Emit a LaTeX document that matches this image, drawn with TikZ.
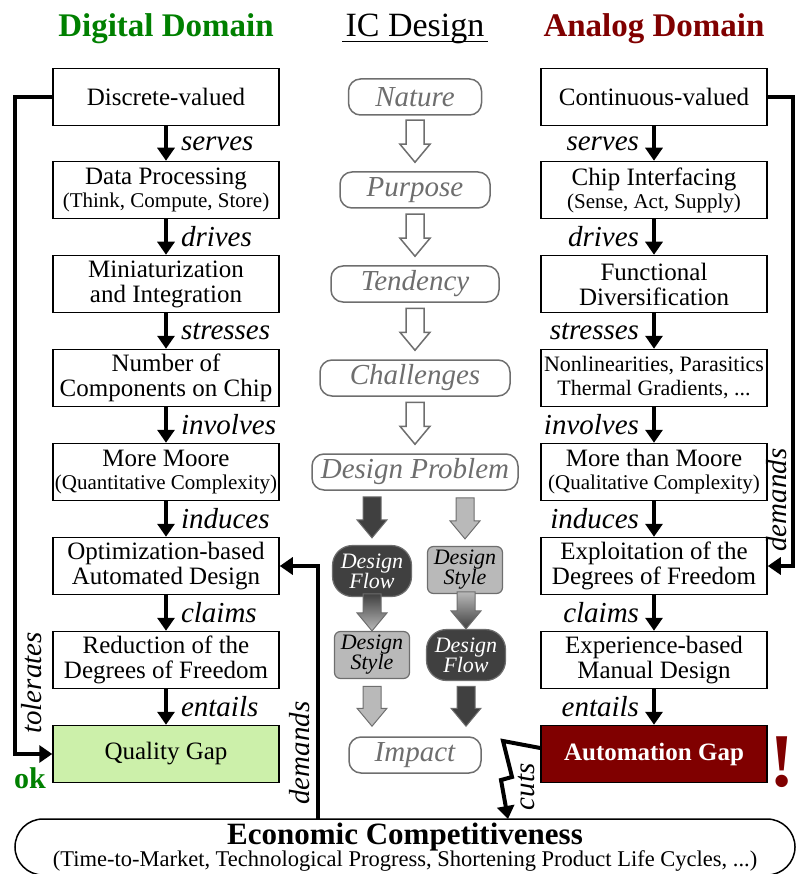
\documentclass[tikz,border=0pt]{standalone}
\usepackage{fontspec}
\setmainfont{Liberation Serif}
\usetikzlibrary{arrows.meta,calc}

\definecolor{digigreen}{RGB}{0,128,0}
\definecolor{anared}{RGB}{128,0,0}
\definecolor{gapgreen}{RGB}{204,240,170}
\definecolor{flowdark}{RGB}{64,64,64}
\definecolor{stylelight}{RGB}{185,185,185}
\definecolor{icgray}{RGB}{110,110,110}

\newcommand{\subline}[1]{{\fontsize{21}{21}\selectfont #1}}
% block arrow pointing down, tip at #2, shaft length #3
\newcommand{\blockarrow}[3]{\path[#1] (#2) -- ++(-15,-18) -- ++(6,0) -- ++(0,-#3) -- ++(18,0) -- ++(0,#3) -- ++(6,0) -- cycle;}

\begin{document}
\begin{tikzpicture}[x=1pt, y=-1pt,
    box/.style={draw, line width=1.5pt, minimum width=226pt, minimum height=57pt, inner sep=1pt, align=center, font=\fontsize{25}{25}\selectfont},
    flow/.style={-{Triangle[length=13pt,width=17pt]}, line width=4pt},
    verb/.style={inner sep=1pt, font=\itshape\fontsize{29}{29}\selectfont},
    stage/.style={draw=icgray, line width=1.5pt, rounded corners=12pt, text=icgray, minimum height=36pt, inner sep=0pt, font=\itshape\fontsize{29}{29}\selectfont},
    hollow/.style={draw=icgray, line width=1.5pt, fill=white},
    darkarr/.style={draw=icgray, line width=1pt, fill=flowdark},
    lightarr/.style={draw=icgray, line width=1pt, fill=stylelight},
    flowbox/.style={draw=icgray, line width=1.2pt, fill=flowdark, rounded corners=20pt, minimum width=79pt, minimum height=51pt, inner sep=0pt, text=white, align=center, font=\itshape\fontsize{22}{20}\selectfont},
    stylebox/.style={draw=icgray, line width=1.2pt, fill=stylelight, rounded corners=6pt, minimum width=75pt, minimum height=47pt, inner sep=0pt, align=center, font=\itshape\fontsize{22}{20}\selectfont}]
  \useasboundingbox (0,0) rectangle (795,874);

  % headings
  \node[text=digigreen, font=\bfseries\fontsize{33}{33}\selectfont] (dhead) at (166,29) {Digital Domain};
  \node[inner xsep=3pt, font=\fontsize{34}{34}\selectfont] (ic) at (415,29) {IC Design};
  \draw[line width=1.5pt] ([yshift=-5pt]ic.base west) -- ([yshift=-5pt]ic.base east);
  \node[text=anared, font=\bfseries\fontsize{33}{33}\selectfont] (ahead) at (654,29) {Analog Domain};

  % digital column
  \node[box] (d1) at (166,97) {Discrete-valued};
  \node[box] (d2) at (166,190) {Data Processing\\[-2pt]\subline{(Think, Compute, Store)}};
  \node[box] (d3) at (166,284) {Miniaturization\\and Integration};
  \node[box] (d4) at (166,378) {Number of\\Components on Chip};
  \node[box] (d5) at (166,472) {More Moore\\[-2pt]\subline{(Quantitative Complexity)}};
  \node[box] (d6) at (166,566) {Optimization-based\\Automated Design};
  \node[box] (d7) at (166,660) {Reduction of the\\Degrees of Freedom};
  \node[box, fill=gapgreen] (d8) at (166,754) {Quality Gap};

  \draw[flow] (d1) -- node[verb, right=12pt] {serves} (d2);
  \draw[flow] (d2) -- node[verb, right=12pt] {drives} (d3);
  \draw[flow] (d3) -- node[verb, right=12pt] {stresses} (d4);
  \draw[flow] (d4) -- node[verb, right=12pt] {involves} (d5);
  \draw[flow] (d5) -- node[verb, right=12pt] {induces} (d6);
  \draw[flow] (d6) -- node[verb, right=12pt] {claims} (d7);
  \draw[flow] (d7) -- node[verb, right=12pt] {entails} (d8);

  % analog column
  \node[box] (a1) at (654,97) {Continuous-valued};
  \node[box] (a2) at (654,190) {Chip Interfacing\\[-2pt]\subline{(Sense, Act, Supply)}};
  \node[box] (a3) at (654,284) {Functional\\Diversification};
  \node[box, font=\fontsize{22}{24}\selectfont] (a4) at (654,378) {Nonlinearities, Parasitics\\Thermal Gradients, ...};
  \node[box] (a5) at (654,472) {More than Moore\\[-2pt]\subline{(Qualitative Complexity)}};
  \node[box] (a6) at (654,566) {Exploitation of the\\Degrees of Freedom};
  \node[box] (a7) at (654,660) {Experience-based\\Manual Design};
  \node[box, fill=anared, text=white, font=\bfseries\fontsize{25}{25}\selectfont] (a8) at (654,754) {Automation Gap};

  \draw[flow] (a1) -- node[verb, left=12pt] {serves} (a2);
  \draw[flow] (a2) -- node[verb, left=12pt] {drives} (a3);
  \draw[flow] (a3) -- node[verb, left=12pt] {stresses} (a4);
  \draw[flow] (a4) -- node[verb, left=12pt] {involves} (a5);
  \draw[flow] (a5) -- node[verb, left=12pt] {induces} (a6);
  \draw[flow] (a6) -- node[verb, left=12pt] {claims} (a7);
  \draw[flow] (a7) -- node[verb, left=12pt] {entails} (a8);

  % IC design stages
  \node[stage, minimum width=133pt] (nature) at (415,97) {Nature};
  \node[stage, minimum width=150pt] (purpose) at (415,190) {Purpose};
  \node[stage, minimum width=168pt] (tendency) at (415,284) {Tendency};
  \node[stage, minimum width=190pt] (challenges) at (415,378) {Challenges};
  \node[stage, minimum width=206pt] (problem) at (415,472) {Design Problem};
  \node[flowbox] (flowA) at (372,571) {Design\\Flow};
  \node[stylebox] (styleA) at (465,570) {Design\\Style};
  \node[stylebox] (styleB) at (372,655) {Design\\Style};
  \node[flowbox] (flowB) at (466,655) {Design\\Flow};
  \node[stage, minimum width=132pt] (impact) at (415,755) {Impact};

  \blockarrow{hollow}{$(purpose.north)+(0,-9)$}{24}
  \blockarrow{hollow}{$(tendency.north)+(0,-9)$}{24}
  \blockarrow{hollow}{$(challenges.north)+(0,-9)$}{24}
  \blockarrow{hollow}{$(problem.north)+(0,-9)$}{24}
  \blockarrow{darkarr}{$(flowA.north)+(0,-7)$}{23}
  \blockarrow{lightarr}{$(styleA.north)+(0,-7)$}{23}
  \blockarrow{draw=icgray, line width=1pt, top color=flowdark, bottom color=stylelight}{styleB.north}{19}
  \blockarrow{draw=icgray, line width=1pt, top color=stylelight, bottom color=flowdark}{flowB.north}{19}
  \blockarrow{lightarr}{$(impact.north -| styleB)+(0,-10)$}{22}
  \blockarrow{darkarr}{$(impact.north -| flowB)+(0,-10)$}{22}

  % economic competitiveness
  \node[draw, line width=1.5pt, rounded corners=28pt, minimum width=780pt, minimum height=56pt, inner sep=0pt, align=center] (eco) at (405,847)
    {{\bfseries\fontsize{31}{31}\selectfont Economic Competitiveness}\\[-1pt]{\fontsize{22.5}{22.5}\selectfont (Time-to-Market, Technological Progress, Shortening Product Life Cycles, ...)}};

  % feedback connectors
  \draw[flow] (d1.west) -- ++(-37,0) |- (d8.west);
  \node[verb, rotate=90] (tol) at (32,683) {tolerates};
  \node[text=digigreen, font=\bfseries\fontsize{30}{30}\selectfont] (ok) at (30,778) {ok};

  \coordinate (ecotop) at (318,819);
  \draw[flow] (ecotop) |- (d6.east);
  \node[verb, rotate=90] (dem1) at (300,753) {demands};

  \draw[flow] (a1.east) -- ++(25,0) |- (a6.east);
  \node[verb, rotate=90] (dem2) at (777,500) {demands};

  \coordinate (cutend) at (508,819);
  \draw[flow, line join=miter] ($(a8.west)+(0,-6)$) -- (503,741) -- (512,777) -- (501,780) -- (cutend);
  \node[verb, rotate=90] (cuts) at (526,787) {cuts};
  \node[inner sep=0pt, text=anared, font=\bfseries\fontsize{76}{76}\selectfont] (bang) at (782,762) {!};
\end{tikzpicture}
\end{document}
